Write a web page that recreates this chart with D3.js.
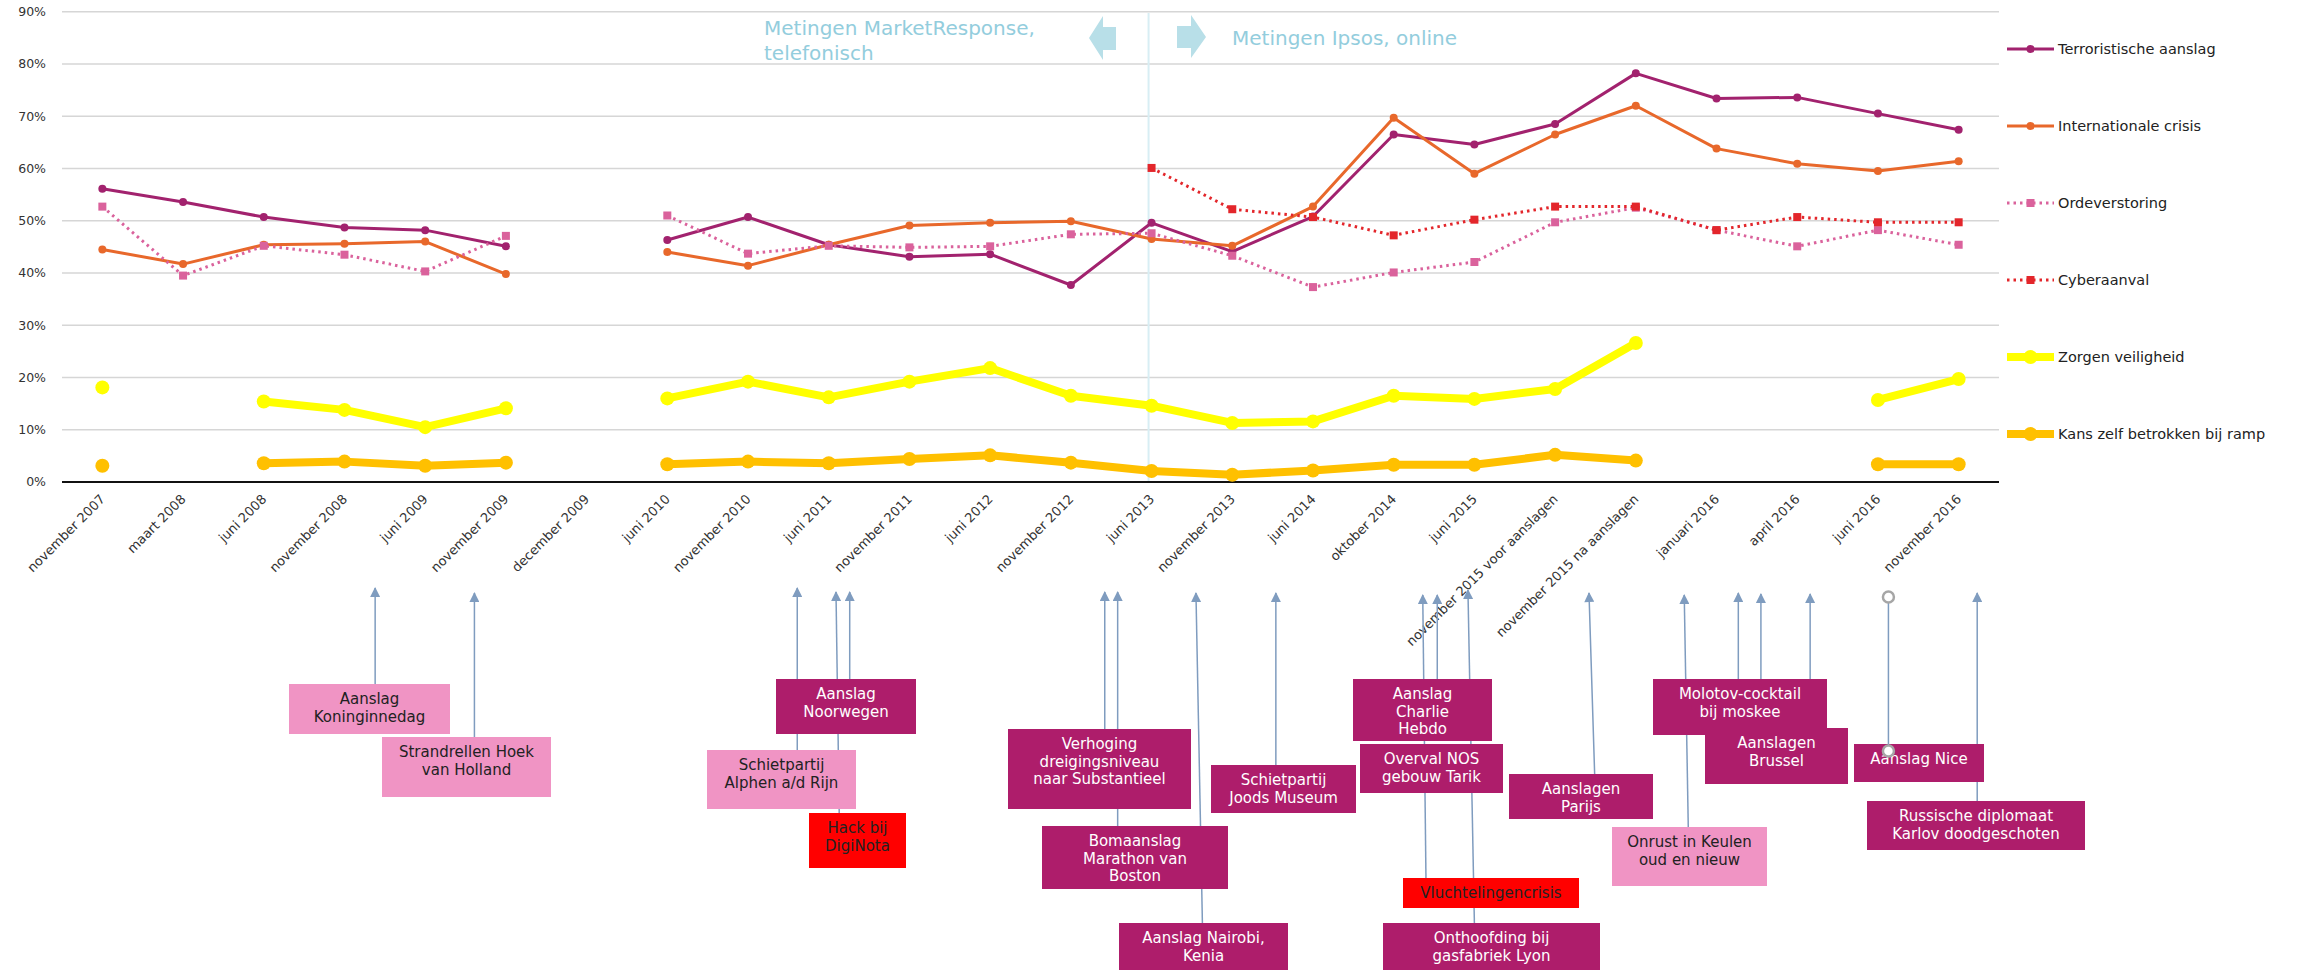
<!DOCTYPE html>
<html>
<head>
<meta charset="utf-8">
<script src="https://cdn.jsdelivr.net/npm/d3@7"></script>
<style>
  body { margin: 0; background: #fff; }
  svg { display: block; font-family: "DejaVu Sans", sans-serif; }
</style>
</head>
<body>
<div class="chart"></div>
<script>
// categories (measurement moments)
var categories = [
  "november 2007", "maart 2008", "juni 2008", "november 2008", "juni 2009",
  "november 2009", "december 2009", "juni 2010", "november 2010", "juni 2011",
  "november 2011", "juni 2012", "november 2012", "juni 2013", "november 2013",
  "juni 2014", "oktober 2014", "juni 2015", "november 2015 voor aanslagen",
  "november 2015 na aanslagen", "januari 2016", "april 2016", "juni 2016", "november 2016"
];

// series values, percent (null = no measurement)
var terroristische = [56.1, 53.6, 50.7, 48.7, 48.2, 45.1, null, 46.3, 50.7, 45.4, 43.1, 43.6, 37.7, 49.6, 44.1, 50.8, 66.5, 64.6, 68.5, 78.2, 73.4, 73.6, 70.5, 67.4];
var internationale = [44.5, 41.7, 45.4, 45.6, 46.0, 39.8, null, 44.0, 41.4, 45.4, 49.1, 49.6, 49.9, 46.5, 45.2, 52.7, 69.7, 59.0, 66.5, 72.0, 63.8, 60.9, 59.5, 61.4];
var ordeverstoring = [52.7, 39.5, 45.2, 43.5, 40.3, 47.1, null, 51.0, 43.7, 45.2, 44.9, 45.1, 47.4, 47.6, 43.3, 37.3, 40.1, 42.1, 49.7, 52.5, 48.2, 45.1, 48.2, 45.4];
var cyberaanval = [null, null, null, null, null, null, null, null, null, null, null, null, null, 60.1, 52.2, 50.7, 47.2, 50.2, 52.7, 52.7, 48.2, 50.7, 49.7, 49.7];
var zorgen = [18.1, null, 15.4, 13.8, 10.5, 14.1, null, 16.0, 19.2, 16.2, 19.2, 21.8, 16.5, 14.6, 11.3, 11.6, 16.5, 15.9, 17.8, 26.6, null, null, 15.7, 19.7];
var kans = [3.1, null, 3.6, 3.9, 3.1, 3.7, null, 3.4, 3.9, 3.6, 4.4, 5.1, 3.7, 2.1, 1.4, 2.2, 3.3, 3.3, 5.2, 4.1, null, null, 3.4, 3.4];

var seriesNames = ["Terroristische aanslag", "Internationale crisis", "Ordeverstoring", "Cyberaanval", "Zorgen veiligheid", "Kans zelf betrokken bij ramp"];
var seriesValues = [terroristische, internationale, ordeverstoring, cyberaanval, zorgen, kans];

var yTicks = [0, 10, 20, 30, 40, 50, 60, 70, 80, 90];

// events below the chart; "at" = position on the category axis (fractional index)
var eventLabels = [
  ["Aanslag", "Koninginnedag"],
  ["Strandrellen Hoek", "van Holland"],
  ["Schietpartij", "Alphen a/d Rijn"],
  ["Aanslag", "Noorwegen"],
  ["Hack bij", "DigiNota"],
  ["Verhoging", "dreigingsniveau", "naar Substantieel"],
  ["Bomaanslag", "Marathon van", "Boston"],
  ["Aanslag Nairobi,", "Kenia"],
  ["Schietpartij", "Joods Museum"],
  ["Aanslag", "Charlie", "Hebdo"],
  ["Overval NOS", "gebouw Tarik"],
  ["Vluchtelingencrisis"],
  ["Onthoofding bij", "gasfabriek Lyon"],
  ["Aanslagen", "Parijs"],
  ["Onrust in Keulen", "oud en nieuw"],
  ["Molotov-cocktail", "bij moskee"],
  ["Aanslagen", "Brussel"],
  ["Aanslag Nice"],
  ["Russische diplomaat", "Karlov doodgeschoten"]
];
var eventKinds = ["licht", "licht", "licht", "zwaar", "cyber", "zwaar", "zwaar", "zwaar", "zwaar", "zwaar",
                  "zwaar", "cyber", "zwaar", "zwaar", "licht", "zwaar", "zwaar", "zwaar", "zwaar"];
// arrow [at bottom, at top] per event
var eventAt = [
  [[3.38, 3.38]], [[4.61, 4.61]], [[8.61, 8.61]], [[9.26, 9.26]], [[9.13, 9.09]],
  [[12.42, 12.42]], [[12.58, 12.58]], [[13.63, 13.55]], [[14.54, 14.54]], [[16.54, 16.54]],
  [], [[16.40, 16.36]], [[17.0, 16.92]], [[18.49, 18.42]], [[19.65, 19.6]],
  [[20.27, 20.27]], [[20.55, 20.55], [21.16, 21.16]], [[22.13, 22.13]], [[23.23, 23.23]]
];

// layout of the event boxes: [x0, y0, x1, y1] and arrow top y
var boxLayout = [
  [289, 684, 450, 734], [382, 737, 551, 797], [707, 750, 856, 809], [776, 679, 916, 734],
  [809, 813, 906, 868], [1008, 729, 1191, 809], [1042, 826, 1228, 889], [1119, 923, 1288, 972],
  [1211, 765, 1356, 813], [1353, 679, 1492, 741], [1360, 744, 1503, 793], [1403, 878, 1579, 908],
  [1383, 923, 1600, 972], [1509, 774, 1653, 819], [1612, 827, 1767, 886], [1653, 679, 1827, 735],
  [1705, 728, 1848, 784], [1854, 744, 1984, 782], [1867, 801, 2085, 850]
];
var arrowTop = [588, 593, 588, 592, 592, 592, 592, 593, 593, 595, 595, 595, 590, 593, 595, 593, 594, 597, 593];

// styles
var styles = [
  {color: "#a2226e", width: 3, dash: null, marker: "circle", size: 4},
  {color: "#e8682b", width: 3, dash: null, marker: "circle", size: 4},
  {color: "#da629c", width: 3, dash: "2.5,4", marker: "square", size: 8},
  {color: "#e3262b", width: 3, dash: "2.5,4", marker: "square", size: 8},
  {color: "#ffff00", width: 8, dash: null, marker: "circle", size: 7},
  {color: "#ffc000", width: 8, dash: null, marker: "circle", size: 7}
];
var boxColors = {licht: "#f094c4", zwaar: "#ae1d6b", cyber: "#ff0000"};
var boxText = {licht: "#222", zwaar: "#fff", cyber: "#222"};

var W = 2302, H = 970;
var plot = {left: 62, right: 1999, top: 11.7, bottom: 482};

var svg = d3.select(".chart").append("svg")
  .attr("width", W).attr("height", H);

var x = d3.scalePoint().domain(categories).range([plot.left, plot.right]).padding(0.5);
var xi = d3.scaleLinear().domain([0, categories.length - 1])
  .range([x(categories[0]), x(categories[categories.length - 1])]);
var y = d3.scaleLinear().domain([0, 90]).range([plot.bottom, plot.top]);

// gridlines
svg.append("g").selectAll("line")
  .data(yTicks.slice(1))
  .enter().append("line")
  .attr("x1", plot.left).attr("x2", plot.right)
  .attr("y1", function(d) { return y(d); })
  .attr("y2", function(d) { return y(d); })
  .attr("stroke", "#d6d6d6").attr("stroke-width", 1.5);

// y labels
svg.append("g").selectAll("text")
  .data(yTicks)
  .enter().append("text")
  .attr("x", 46).attr("y", function(d) { return y(d); })
  .attr("dy", "0.35em")
  .attr("text-anchor", "end")
  .style("font-size", "12.5px").attr("fill", "#333")
  .text(function(d) { return d + "%"; });

// separator between telephone and online measurements
svg.append("line")
  .attr("x1", x("juni 2013") - 3).attr("x2", x("juni 2013") - 3)
  .attr("y1", 13).attr("y2", plot.bottom)
  .attr("stroke", "#d8eef4").attr("stroke-width", 2);

// x axis
var xAxis = svg.append("g")
  .attr("transform", "translate(0," + plot.bottom + ")")
  .call(d3.axisBottom(x).tickSize(0).tickPadding(0));
xAxis.select(".domain").remove();
xAxis.selectAll("text")
  .attr("x", 0).attr("y", 0).attr("dy", 0)
  .attr("transform", "translate(3,18) rotate(-45)")
  .style("text-anchor", "end")
  .style("font-size", "13px")
  .style("font-family", "DejaVu Sans")
  .attr("fill", "#333");

svg.append("line")
  .attr("x1", plot.left).attr("x2", plot.right)
  .attr("y1", plot.bottom).attr("y2", plot.bottom)
  .attr("stroke", "#111").attr("stroke-width", 2);

// lines
var line = d3.line()
  .defined(function(d) { return d != null; })
  .x(function(d, i) { return x(categories[i]); })
  .y(function(d) { return y(d); });

seriesValues.forEach(function(vals, s) {
  var st = styles[s];
  svg.append("path")
    .attr("d", line(vals))
    .attr("fill", "none")
    .attr("stroke", st.color)
    .attr("stroke-width", st.width)
    .attr("stroke-linejoin", "round")
    .attr("stroke-dasharray", st.dash);

  var pts = vals.map(function(v, i) { return {v: v, c: categories[i]}; })
    .filter(function(d) { return d.v != null; });

  if (st.marker == "circle") {
    svg.append("g").selectAll("circle")
      .data(pts).enter().append("circle")
      .attr("cx", function(d) { return x(d.c); })
      .attr("cy", function(d) { return y(d.v); })
      .attr("r", st.size)
      .attr("fill", st.color);
  } else {
    svg.append("g").selectAll("rect")
      .data(pts).enter().append("rect")
      .attr("x", function(d) { return x(d.c) - st.size / 2; })
      .attr("y", function(d) { return y(d.v) - st.size / 2; })
      .attr("width", st.size).attr("height", st.size)
      .attr("fill", st.color);
  }
});

// legend
var legend = svg.append("g").selectAll("g")
  .data(seriesNames)
  .enter().append("g")
  .attr("transform", function(d, i) { return "translate(2007," + (49 + i * 77) + ")"; });

legend.append("line")
  .attr("x1", 0).attr("x2", 47).attr("y1", 0).attr("y2", 0)
  .attr("stroke", function(d, i) { return styles[i].color; })
  .attr("stroke-width", function(d, i) { return styles[i].width; })
  .attr("stroke-dasharray", function(d, i) { return styles[i].dash; });

legend.each(function(d, i) {
  var st = styles[i];
  var g = d3.select(this);
  if (st.marker == "circle") {
    g.append("circle").attr("cx", 23.5).attr("cy", 0).attr("r", st.size).attr("fill", st.color);
  } else {
    g.append("rect").attr("x", 23.5 - st.size / 2).attr("y", -st.size / 2)
      .attr("width", st.size).attr("height", st.size).attr("fill", st.color);
  }
});

legend.append("text")
  .attr("x", 51).attr("dy", "0.35em")
  .style("font-size", "14.5px").attr("fill", "#222")
  .text(function(d) { return d; });

// header annotations
var header = svg.append("g").attr("fill", "#93cddd").style("font-size", "20px");
header.append("text").attr("x", 764).attr("y", 35).text("Metingen MarketResponse,");
header.append("text").attr("x", 764).attr("y", 60).text("telefonisch");
header.append("text").attr("x", 1232).attr("y", 45).text("Metingen Ipsos, online");

svg.append("polygon")
  .attr("points", "1089,38 1103,16 1103,27 1116,27 1116,50 1103,50 1103,60")
  .attr("fill", "#b8dfe8");
svg.append("polygon")
  .attr("points", "1177,26 1191,26 1191,15 1206,37 1191,58 1191,48 1177,48")
  .attr("fill", "#b8dfe8");

// arrow head
svg.append("defs").append("marker")
  .attr("id", "head")
  .attr("viewBox", "0 0 10 10")
  .attr("refX", 9).attr("refY", 5)
  .attr("markerWidth", 11).attr("markerHeight", 10)
  .attr("markerUnits", "userSpaceOnUse")
  .attr("orient", "auto")
  .append("path").attr("d", "M0,0 L10,5 L0,10 z").attr("fill", "#7f9cbf");

var NICE = 17;

// event arrows (behind boxes)
eventAt.forEach(function(arrows, e) {
  if (e == NICE) return;
  arrows.forEach(function(a) {
    svg.append("line")
      .attr("x1", xi(a[0])).attr("y1", boxLayout[e][1])
      .attr("x2", xi(a[1])).attr("y2", arrowTop[e])
      .attr("stroke", "#7f9cbf").attr("stroke-width", 1.5)
      .attr("marker-end", "url(#head)");
  });
});

// event boxes
var boxes = svg.append("g").selectAll("g")
  .data(eventLabels)
  .enter().append("g");

boxes.append("rect")
  .attr("x", function(d, i) { return boxLayout[i][0]; })
  .attr("y", function(d, i) { return boxLayout[i][1]; })
  .attr("width", function(d, i) { return boxLayout[i][2] - boxLayout[i][0]; })
  .attr("height", function(d, i) { return boxLayout[i][3] - boxLayout[i][1]; })
  .attr("fill", function(d, i) { return boxColors[eventKinds[i]]; });

boxes.each(function(lines, i) {
  var b = boxLayout[i];
  d3.select(this).append("g").selectAll("text")
    .data(lines).enter().append("text")
    .attr("x", (b[0] + b[2]) / 2)
    .attr("y", function(d, j) { return b[1] + 20 + j * 17.5; })
    .attr("text-anchor", "middle")
    .style("font-size", "15px")
    .attr("fill", boxText[eventKinds[i]])
    .text(function(d) { return d; });
});

// Nice: connector with open circles, drawn on top
var nx = xi(eventAt[NICE][0][0]);
svg.append("line")
  .attr("x1", nx).attr("x2", nx)
  .attr("y1", arrowTop[NICE]).attr("y2", boxLayout[NICE][1] + 7)
  .attr("stroke", "#7f9cbf").attr("stroke-width", 1.5);
svg.append("g").selectAll("circle")
  .data([arrowTop[NICE], boxLayout[NICE][1] + 7])
  .enter().append("circle")
  .attr("cx", nx).attr("cy", function(d) { return d; })
  .attr("r", 5.5)
  .attr("fill", "#fff").attr("stroke", "#a6a6a6").attr("stroke-width", 2.5);
</script>
</body>
</html>
